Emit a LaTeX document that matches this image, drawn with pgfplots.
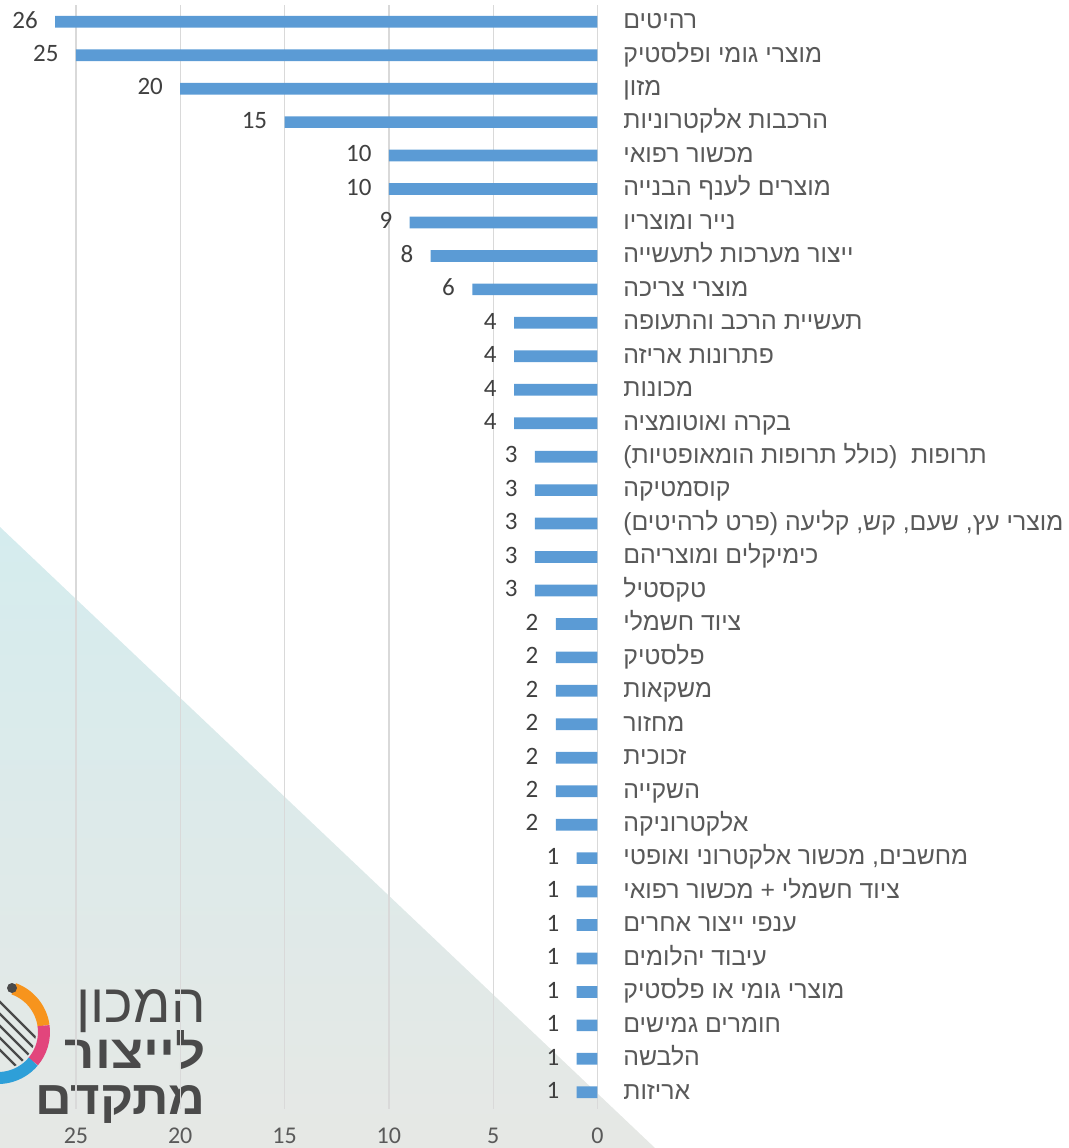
\documentclass[border=0pt]{standalone}
\usepackage{pgfplots}
\pgfplotsset{compat=1.18}
\usepackage{graphicx}
\usepackage{fontspec}
\setmainfont{Carlito}
\newfontfamily\heb[Script=Hebrew]{Liberation Sans}
\TeXXeTstate=1
\definecolor{barblue}{HTML}{5B9BD5}
\definecolor{labgray}{HTML}{595959}
\definecolor{numgray}{HTML}{404040}
\definecolor{gridgray}{HTML}{D9D9D9}
\definecolor{wmtop}{HTML}{D5ECEE}
\definecolor{wmbot}{HTML}{E6E8E5}
\definecolor{logogray}{HTML}{4A4A4A}
\definecolor{gearor}{HTML}{F7941D}
\definecolor{gearpk}{HTML}{E2457C}
\definecolor{gearbl}{HTML}{2E9FD8}

\begin{document}
\begin{tikzpicture}
\useasboundingbox (0,0) rectangle (534.5pt,-574pt);
% background watermark and logo, in image pixels (y down)
\begin{scope}[x=0.5pt,y=-0.5pt]
  \shade[top color=wmtop, bottom color=wmbot] (0,527) -- (655,1148) -- (0,1148) -- cycle;
  \draw[gearor, line width=6pt] ([shift={(-70:46)}]-2,1032) arc[start angle=-70, end angle=-8, radius=46];
  \draw[gearpk, line width=6pt] ([shift={(-8:46)}]-2,1032) arc[start angle=-8, end angle=40, radius=46];
  \draw[gearbl, line width=6pt] ([shift={(40:46)}]-2,1032) arc[start angle=40, end angle=100, radius=46];
  \begin{scope}
    \clip (-2,1032) circle[radius=38];
    \foreach \d in {-30,-18,-6,6,18} {
      \draw[logogray, line width=1.2pt] (-40,1032+\d-40) -- (40,1032+\d+40);
    }
  \end{scope}
  \fill[logogray] (12,988) circle[radius=5];
  \node[anchor=base east, inner sep=0pt, text=logogray] at (206,1022)
    {\resizebox{64.5pt}{16.5pt}{\heb\beginR המכון\endR}};
  \node[anchor=base east, inner sep=0pt, text=logogray] at (206,1068)
    {\resizebox{70.5pt}{19pt}{\heb\bfseries\beginR לייצור\endR}};
  \node[anchor=base east, inner sep=0pt, text=logogray] at (206,1114)
    {\resizebox{85pt}{14.5pt}{\heb\bfseries\beginR מתקדם\endR}};
\end{scope}

\begin{axis}[
  at={(298.75pt,-2.5pt)}, anchor=north east,
  scale only axis, width=298.75pt, height=552pt,
  xbar, bar width=5.85pt,
  x dir=reverse, y dir=reverse,
  xmin=0, xmax=28.64, ymin=-0.5, ymax=32.5,
  axis line style={draw=none},
  major tick length=0pt,
  /pgf/number format/assume math mode=true,
  xmajorgrids, major grid style={gridgray, line width=0.65pt},
  xtick={0,5,10,15,20,25},
  xticklabel style={font=\fontsize{12}{14}\selectfont, text=labgray, anchor=north,
    inner sep=0pt, text height=0.63em, text depth=0pt, yshift=-10.5pt},
  ytick={0,...,32},
  yticklabel pos=right,
  yticklabel style={anchor=west, font=\heb\fontsize{12.4}{14}\selectfont, text=labgray,
    inner sep=0pt, xshift=12.75pt, text height=0.68em, text depth=0pt},
  yticklabels={
    {\beginR רהיטים\endR},
    {\beginR מוצרי גומי ופלסטיק\endR},
    {\beginR מזון\endR},
    {\beginR הרכבות אלקטרוניות\endR},
    {\beginR מכשור רפואי\endR},
    {\beginR מוצרים לענף הבנייה\endR},
    {\beginR נייר ומוצריו\endR},
    {\beginR ייצור מערכות לתעשייה\endR},
    {\beginR מוצרי צריכה\endR},
    {\beginR תעשיית הרכב והתעופה\endR},
    {\beginR פתרונות אריזה\endR},
    {\beginR מכונות\endR},
    {\beginR בקרה ואוטומציה\endR},
    {\beginR תרופות\ \ (כולל תרופות הומאופטיות)\endR},
    {\beginR קוסמטיקה\endR},
    {\beginR מוצרי עץ, שעם, קש, קליעה (פרט לרהיטים)\endR},
    {\beginR כימיקלים ומוצריהם\endR},
    {\beginR טקסטיל\endR},
    {\beginR ציוד חשמלי\endR},
    {\beginR פלסטיק\endR},
    {\beginR משקאות\endR},
    {\beginR מחזור\endR},
    {\beginR זכוכית\endR},
    {\beginR השקייה\endR},
    {\beginR אלקטרוניקה\endR},
    {\beginR מחשבים, מכשור אלקטרוני ואופטי\endR},
    {\beginR ציוד חשמלי + מכשור רפואי\endR},
    {\beginR ענפי ייצור אחרים\endR},
    {\beginR עיבוד יהלומים\endR},
    {\beginR מוצרי גומי או פלסטיק\endR},
    {\beginR חומרים גמישים\endR},
    {\beginR הלבשה\endR},
    {\beginR אריזות\endR}},
  point meta=x,
  nodes near coords,
  every node near coord/.append style={anchor=east, inner sep=0pt, xshift=-8.5pt,
    font=\fontsize{12.5}{14}\selectfont, text=numgray, text height=0.63em, text depth=0pt},
]
\addplot[draw=none, fill=barblue] coordinates {
  (26,0) (25,1) (20,2) (15,3) (10,4) (10,5) (9,6) (8,7) (6,8)
  (4,9) (4,10) (4,11) (4,12)
  (3,13) (3,14) (3,15) (3,16) (3,17)
  (2,18) (2,19) (2,20) (2,21) (2,22) (2,23) (2,24)
  (1,25) (1,26) (1,27) (1,28) (1,29) (1,30) (1,31) (1,32)
};
\end{axis}
\end{tikzpicture}
\end{document}
